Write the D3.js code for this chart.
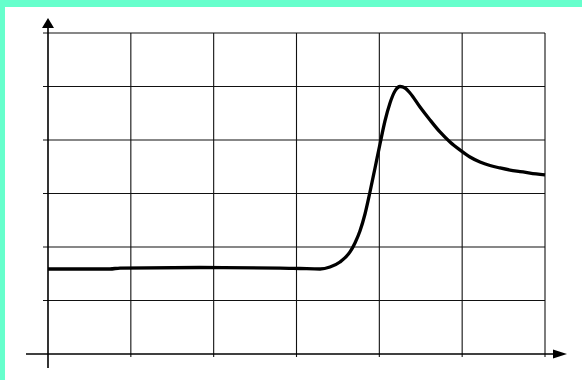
<!doctype html>
<html lang="en">

<head>
    <meta charset="UTF-8" />
    <script src="https://d3js.org/d3.v7.min.js"></script>
    <title>Curve</title>
    <style>
        body { margin: 0; }
    </style>
</head>

<body>
    <div id="chart"></div>
    <script>
        // Curve values (grid units)
        const xValues = [0, 0.749, 0.869, 1.835, 2.801, 3.042, 3.284, 3.404, 3.525, 3.646, 3.706, 3.766, 3.827, 3.887,
            3.948, 4.008, 4.068, 4.129, 4.189, 4.250, 4.310, 4.370, 4.491, 4.612, 4.732, 4.853, 4.974, 5.094, 5.215,
            5.336, 5.457, 5.578, 5.698, 5.819, 6.000]
        const yValues = [1.589, 1.589, 1.607, 1.617, 1.607, 1.598, 1.589, 1.626, 1.720, 1.907, 2.075, 2.299, 2.617, 3.028,
            3.477, 3.925, 4.355, 4.692, 4.916, 5.000, 4.972, 4.879, 4.617, 4.374, 4.150, 3.963, 3.813, 3.682, 3.589,
            3.523, 3.477, 3.439, 3.411, 3.383, 3.346]

        // Grid positions
        const xTicks = [1, 2, 3, 4, 5, 6]
        const yTicks = [1, 2, 3, 4, 5, 6]

        const WIDTH = 582
        const HEIGHT = 380

        const x = d3.scaleLinear().domain([0, 6]).range([48, 545])
        const y = d3.scaleLinear().domain([0, 6]).range([354, 33])

        const svg = d3.select("#chart")
            .append("svg")
            .attr("width", WIDTH)
            .attr("height", HEIGHT)

        svg.append("rect")
            .attr("width", WIDTH)
            .attr("height", HEIGHT)
            .attr("fill", "white")

        // mint frame on top and left
        svg.append("rect").attr("width", WIDTH).attr("height", 7).attr("fill", "#66ffcc")
        svg.append("rect").attr("width", 5).attr("height", HEIGHT).attr("fill", "#66ffcc")

        // Grid lines
        svg.selectAll(".hgrid")
            .data(yTicks)
            .enter()
            .append("line")
            .attr("class", "hgrid")
            .attr("x1", x(0) - 5)
            .attr("x2", x(6))
            .attr("y1", d => y(d))
            .attr("y2", d => y(d))
            .attr("stroke", "#111")
            .attr("stroke-width", 1.1)

        svg.selectAll(".vgrid")
            .data(xTicks)
            .enter()
            .append("line")
            .attr("class", "vgrid")
            .attr("x1", d => x(d))
            .attr("x2", d => x(d))
            .attr("y1", y(6))
            .attr("y2", y(0) + 3)
            .attr("stroke", "#111")
            .attr("stroke-width", 1.1)

        // Axes with arrows
        svg.append("line")
            .attr("x1", x(0)).attr("x2", x(0))
            .attr("y1", y(0) + 14).attr("y2", 27)
            .attr("stroke", "black")
            .attr("stroke-width", 1.6)
        svg.append("path")
            .attr("d", `M${x(0)},18 L${x(0) - 6},28 L${x(0) + 6},28 Z`)
            .attr("fill", "black")

        svg.append("line")
            .attr("x1", 26).attr("x2", 554)
            .attr("y1", y(0)).attr("y2", y(0))
            .attr("stroke", "black")
            .attr("stroke-width", 1.6)
        svg.append("path")
            .attr("d", `M567,${y(0)} L553,${y(0) - 4.5} L553,${y(0) + 4.5} Z`)
            .attr("fill", "black")

        // The curve
        const points = xValues.map((v, i) => [v, yValues[i]])
        const line = d3.line()
            .x(d => x(d[0]))
            .y(d => y(d[1]))
            .curve(d3.curveMonotoneX)

        svg.append("path")
            .datum(points)
            .attr("d", line)
            .attr("fill", "none")
            .attr("stroke", "black")
            .attr("stroke-width", 3.3)
            .attr("stroke-linejoin", "round")
    </script>
</body>

</html>
